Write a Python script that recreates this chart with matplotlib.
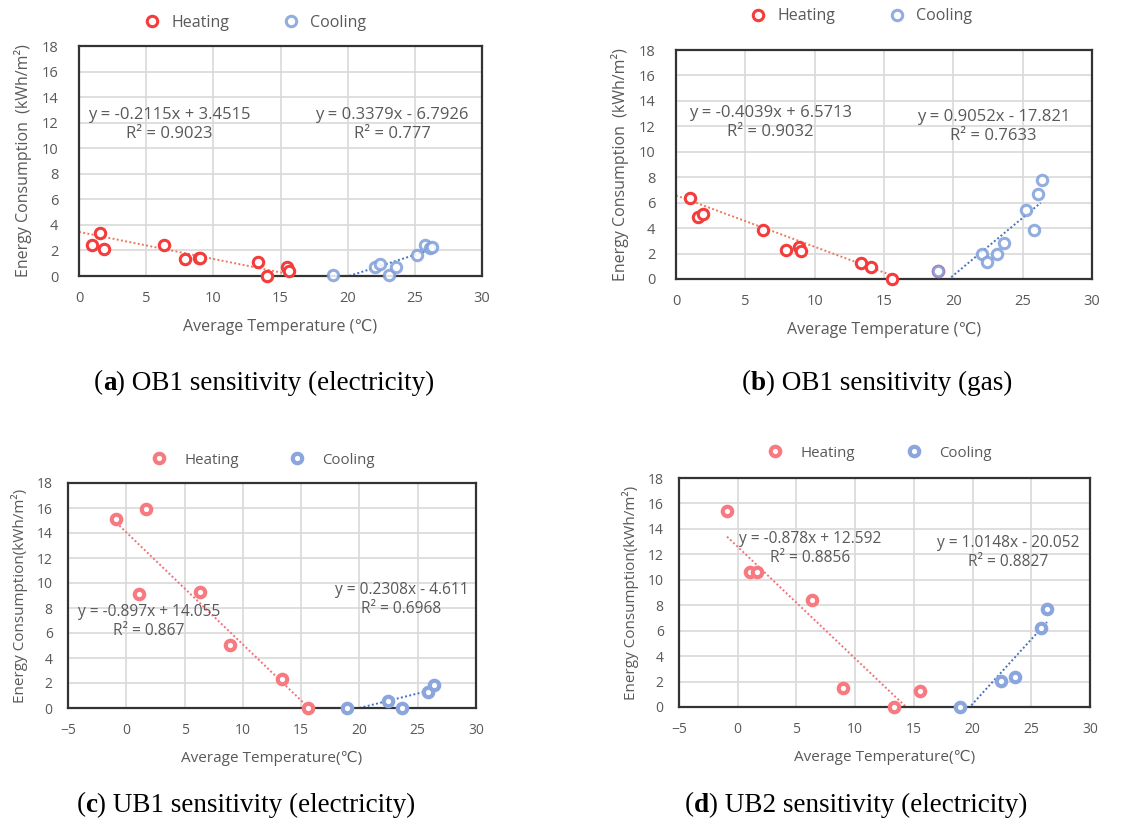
import matplotlib
matplotlib.use('Agg')
import matplotlib.pyplot as plt
import numpy as np

# panel a: OB1 electricity
a_heat_x = [0.99, 1.56, 1.88, 6.30, 7.88, 8.90, 9.00, 13.29, 13.96, 15.50, 15.60]
a_heat_y = [2.39, 3.36, 2.13, 2.42, 1.35, 1.44, 1.38, 1.07, 0.00, 0.70, 0.36]
a_cool_x = [18.90, 22.07, 22.40, 23.06, 23.58, 25.17, 25.74, 26.16, 26.30]
a_cool_y = [0.05, 0.68, 0.94, 0.08, 0.70, 1.66, 2.39, 2.19, 2.29]
a_fit = [(-0.2115, 3.4515, 0.0, 15.6), (0.3379, -6.7926, 18.9, 26.3)]
a_eq = ['y = -0.2115x + 3.4515\nR² = 0.9023', 'y = 0.3379x - 6.7926\nR² = 0.777']

# panel b: OB1 gas
b_heat_x = [1.01, 1.59, 1.95, 6.31, 7.90, 8.89, 9.00, 13.32, 14.04, 15.60, 18.88]
b_heat_y = [6.36, 4.87, 5.10, 3.82, 2.28, 2.51, 2.17, 1.28, 0.97, 0.00, 0.62]
b_cool_x = [18.88, 22.10, 22.42, 23.14, 23.62, 25.21, 25.81, 26.10, 26.37]
b_cool_y = [0.62, 1.99, 1.33, 1.99, 2.83, 5.44, 3.87, 6.70, 7.80]
b_fit = [(-0.4039, 6.5713, 0.0, 15.6), (0.9052, -17.821, 18.9, 26.3)]
b_eq = ['y = -0.4039x + 6.5713\nR² = 0.9032', 'y = 0.9052x - 17.821\nR² = 0.7633']

# panel c: UB1 electricity
c_heat_x = [-0.86, 1.66, 1.06, 6.35, 8.89, 13.38, 15.58]
c_heat_y = [15.13, 15.95, 9.12, 9.25, 5.05, 2.31, 0.00]
c_cool_x = [18.93, 22.45, 23.65, 25.88, 26.37]
c_cool_y = [0.00, 0.58, 0.00, 1.28, 1.81]
c_fit = [(-0.897, 14.055, -0.86, 15.58), (0.2308, -4.611, 18.93, 26.37)]
c_eq = ['y = -0.897x + 14.055\nR² = 0.867', 'y = 0.2308x - 4.611\nR² = 0.6968']

# panel d: UB2 electricity
d_heat_x = [-0.91, 1.02, 1.64, 6.32, 8.96, 13.27, 15.51]
d_heat_y = [15.38, 10.62, 10.60, 8.42, 1.49, 0.00, 1.23]
d_cool_x = [18.91, 22.46, 23.62, 25.86, 26.34]
d_cool_y = [0.00, 2.01, 2.33, 6.20, 7.72]
d_fit = [(-0.878, 12.592, -0.91, 15.51), (1.0148, -20.052, 18.91, 26.34)]
d_eq = ['y = -0.878x + 12.592\nR² = 0.8856', 'y = 1.0148x - 20.052\nR² = 0.8827']

captions = [('a', 'OB1 sensitivity (electricity)'), ('b', 'OB1 sensitivity (gas)'),
            ('c', 'UB1 sensitivity (electricity)'), ('d', 'UB2 sensitivity (electricity)')]

W, H = 1148, 818
GRAY = '#595959'
SANS = ['Open Sans', 'DejaVu Sans']

fig = plt.figure(figsize=(W / 100, H / 100), dpi=100)


def px_axes(l, r, t, b):
    return fig.add_axes([l / W, (H - b) / H, (r - l) / W, (b - t) / H])


def panel(ax, hx, hy, cx, cy, fits, eqs, eq_pos, style, ylab, xlab, xmin, leg_pos, fs):
    ax.set_xlim(xmin, 30)
    ax.set_ylim(0, 18)
    ax.set_xticks(np.arange(xmin, 31, 5))
    ax.set_yticks(np.arange(0, 19, 2))
    ax.grid(True, color='#d9d9d9', lw=1.2)
    ax.set_axisbelow(True)
    for s in ax.spines.values():
        s.set_color('#333333')
        s.set_linewidth(1.6)
    ax.tick_params(length=0, labelcolor=GRAY, labelsize=fs['tick'])
    ax.tick_params(axis='x', pad=fs['xpad'])
    ax.tick_params(axis='y', pad=fs['ypad'])
    for lab in ax.get_xticklabels() + ax.get_yticklabels():
        lab.set_family(SANS)

    if style == 'thin':
        hc, cc, htc, ctc = '#f53b3b', '#7f9fdb', '#f0785a', '#4472c4'
        ms, mew = 7.5, 2.2
    else:
        hc, cc, htc, ctc = '#f77a80', '#8aa6dc', '#f4707a', '#4472c4'
        ms, mew = 6.8, 3.0

    (sl, ic, x0, x1), (sl2, ic2, x2, x3) = fits
    tx = np.array([x0, x1])
    ax.plot(tx, sl * tx + ic, ls=(0, (1, 1.2)), color=htc, lw=1.4, zorder=2)
    tx = np.array([x2, x3])
    ax.plot(tx, sl2 * tx + ic2, ls=(0, (1, 1.2)), color=ctc, lw=1.4, zorder=2)

    h1, = ax.plot(hx, hy, 'o', ls='none', mfc='white', mec=hc, ms=ms, mew=mew,
                  clip_on=False, zorder=3, label='Heating')
    h2, = ax.plot(cx, cy, 'o', ls='none', mfc='white', mec=cc, ms=ms, mew=mew,
                  clip_on=False, zorder=4, alpha=0.85 if style == 'thin' else 1,
                  label='Cooling')

    for txt, (ex, ey) in zip(eqs, eq_pos):
        ax.text(ex, ey, txt, ha='center', va='top', color=GRAY, fontsize=fs['eq'],
                family=SANS, linespacing=1.25, zorder=5)

    ax.set_ylabel(ylab, color=GRAY, fontsize=fs['lab'], family=SANS, labelpad=fs['ylp'])
    ax.set_xlabel(xlab, color=GRAY, fontsize=fs['lab'], family=SANS, labelpad=fs['xlp'])

    leg = ax.legend(handles=[h1, h2], loc='center', bbox_to_anchor=leg_pos, ncol=2,
                    frameon=False, handlelength=1.0, handletextpad=fs['htp'],
                    columnspacing=fs['cs'], prop={'family': SANS, 'size': fs['leg']})
    for t in leg.get_texts():
        t.set_color(GRAY)


top_fs = dict(tick=10.5, xpad=11, ypad=15, eq=12, lab=11.5, ylp=7, xlp=9, leg=11.5, htp=0.7, cs=3.4)
bot_fs = dict(tick=10, xpad=11, ypad=11, eq=11.2, lab=11, ylp=6, xlp=9, leg=10.8, htp=1.2, cs=3.4)

ax_a = px_axes(79, 482, 46, 276)
panel(ax_a, a_heat_x, a_heat_y, a_cool_x, a_cool_y, a_fit, a_eq,
      [(6.7, 13.2), (23.3, 13.2)], 'thin', 'Energy Consumption  (kWh/m²)',
      'Average Temperature (℃)', 0, (0.437, 1.10), top_fs)

ax_b = px_axes(676, 1092, 50, 279)
panel(ax_b, b_heat_x, b_heat_y, b_cool_x, b_cool_y, b_fit, b_eq,
      [(6.8, 13.7), (22.9, 13.4)], 'thin', 'Energy Consumption  (kWh/m²)',
      'Average Temperature (℃)', 0, (0.445, 1.148), top_fs)

ax_c = px_axes(68, 476, 483, 708)
panel(ax_c, c_heat_x, c_heat_y, c_cool_x, c_cool_y, c_fit, c_eq,
      [(1.95, 8.3), (23.6, 10.1)], 'thick', 'Energy Consumption(kWh/m²)',
      'Average Temperature(℃)', -5, (0.478, 1.102), bot_fs)

ax_d = px_axes(679, 1090, 478, 707)
panel(ax_d, d_heat_x, d_heat_y, d_cool_x, d_cool_y, d_fit, d_eq,
      [(6.15, 13.8), (23.05, 13.55)], 'thick', 'Energy Consumption(kWh/m²)',
      'Average Temperature(℃)', -5, (0.489, 1.109), bot_fs)

# captions with bold panel letter
renderer = fig.canvas.get_renderer()
cap_pos = [(264, 383), (877, 383), (246, 805), (856, 805)]
for (letter, rest), (xc, yc) in zip(captions, cap_pos):
    parts = [('(', 'normal'), (letter, 'bold'), (') ' + rest, 'normal')]
    texts = [fig.text(0, 1 - yc / H, s, fontweight=w, family='Liberation Serif',
                      fontsize=19.5, va='center', color='black') for s, w in parts]
    widths = [t.get_window_extent(renderer).width for t in texts]
    x = xc - sum(widths) / 2
    for t, w in zip(texts, widths):
        t.set_x(x / W)
        x += w

fig.savefig('out.png', dpi=100)
